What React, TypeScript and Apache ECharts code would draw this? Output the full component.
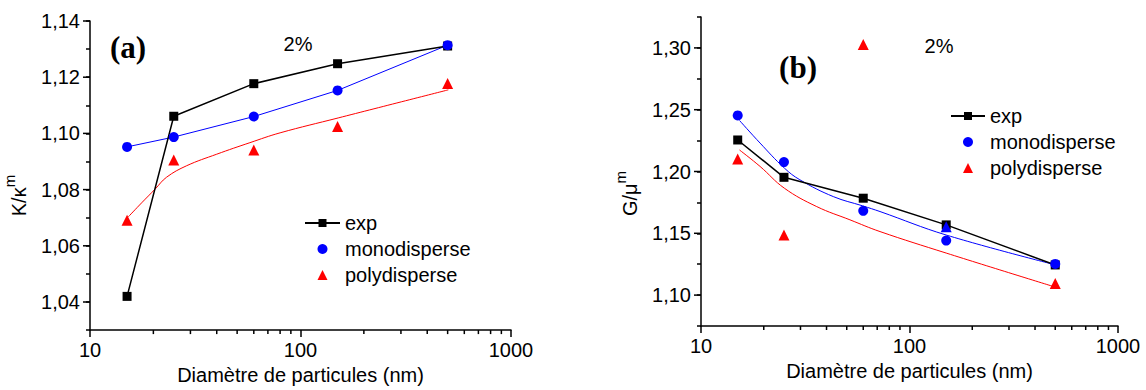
import React, { useEffect, useRef } from 'react';
import * as echarts from 'echarts';

// ---- data ----
const diameters = [15, 25, 60, 150, 500];

// panel (a) K/κm
const leftExp = [1.042, 1.1061, 1.1177, 1.1248, 1.1311];
const leftMono = [1.0952, 1.0987, 1.106, 1.1153, 1.1314];
const leftPoly = [1.0691, 1.0905, 1.0941, 1.1025, 1.1178];
const leftPolyFitX = [15.2, 17.6, 20.4, 23.1, 28.8, 40, 57.5, 80, 151, 504];
const leftPolyFitY = [1.0703, 1.0753, 1.0802, 1.0844, 1.0885, 1.0926, 1.0967, 1.1002, 1.1055, 1.1155];

// panel (b) G/μm
const rightExp = [1.2255, 1.1953, 1.1784, 1.1568, 1.1244];
const rightMono = [1.2454, 1.2076, 1.1682, 1.1441, 1.1252];
const rightPoly = [1.2101, 1.1487, 1.3027, 1.1554, 1.1093];
const rightPolyColors = ['#ff0000', '#ff0000', '#ff0000', '#0000ff', '#ff0000'];
const rightMonoFitX = [15.3, 19.2, 25.1, 29.8, 43.1, 59.6, 72.2, 150, 500];
const rightMonoFitY = [1.2413, 1.223, 1.2028, 1.1933, 1.1797, 1.1722, 1.1676, 1.1486, 1.1245];
const rightPolyFitX = [15.3, 19.2, 25.1, 35.9, 51.8, 72.2, 150, 500];
const rightPolyFitY = [1.2174, 1.2041, 1.1865, 1.1716, 1.1609, 1.1514, 1.134, 1.1065];

// axes
const xMinorTicks = [20, 30, 40, 50, 60, 70, 80, 90, 200, 300, 400, 500, 600, 700, 800, 900];
const leftYMajor = [1.04, 1.06, 1.08, 1.1, 1.12, 1.14];
const rightYMajor = [1.1, 1.15, 1.2, 1.25, 1.3];
const legendNames = ['exp', 'monodisperse', 'polydisperse'];
const xAxisTitle = 'Diamètre de particules (nm)';

const FONT = "'Liberation Sans', Arial, sans-serif";
const SERIF = "'Liberation Serif', 'Times New Roman', serif";

const pairs = (xs: number[], ys: number[]) => xs.map((x, i) => [x, ys[i]]);

function tickSeries(idx: number, data: number[][], dir: 'x' | 'y', len: number) {
  return {
    type: 'custom',
    xAxisIndex: idx,
    yAxisIndex: idx,
    silent: true,
    clip: false,
    z: 5,
    data,
    renderItem: (_p: any, api: any) => {
      const p = api.coord([api.value(0), api.value(1)]);
      const x2 = dir === 'x' ? p[0] : p[0] - len;
      const y2 = dir === 'x' ? p[1] + len : p[1];
      return {
        type: 'line',
        shape: { x1: p[0], y1: p[1], x2, y2 },
        style: { stroke: '#000', lineWidth: 1.5 },
      };
    },
  };
}

function xAxisCfg(grid: number, nameGap: number) {
  return {
    type: 'log',
    logBase: 10,
    gridIndex: grid,
    min: 10,
    max: 1000,
    name: xAxisTitle,
    nameLocation: 'middle',
    nameGap,
    nameTextStyle: { fontSize: 20, fontFamily: FONT, color: '#000' },
    axisLine: { lineStyle: { color: '#000', width: 1.5 } },
    axisTick: { inside: false, length: 7, lineStyle: { color: '#000', width: 1.5 } },
    axisLabel: { fontSize: 20, fontFamily: FONT, color: '#000', margin: 10, formatter: (v: number) => String(Math.round(v)) },
    splitLine: { show: false },
  };
}

function yAxisCfg(grid: number, min: number, max: number, interval: number, isMajor: (v: number) => boolean, name: string, nameGap: number, shift: number) {
  return {
    type: 'value',
    gridIndex: grid,
    min,
    max,
    interval,
    name,
    nameLocation: 'middle',
    nameRotate: 90,
    nameGap,
    nameTextStyle: {
      color: '#000',
      padding: [0, shift, 0, 0],
      rich: {
        a: { fontSize: 20, fontFamily: FONT, color: '#000' },
        b: { fontSize: 15, fontFamily: FONT, color: '#000', padding: [0, 0, 18, 0] },
      },
    },
    axisLine: { show: true, lineStyle: { color: '#000', width: 1.5 } },
    axisTick: { show: true, inside: false, length: 4, lineStyle: { color: '#000', width: 1.5 } },
    axisLabel: {
      fontSize: 20,
      fontFamily: FONT,
      color: '#000',
      margin: 10,
      formatter: (v: number) => (isMajor(v) ? v.toFixed(2).replace('.', ',') : ''),
    },
    splitLine: { show: false },
  };
}

function panelSeries(idx: number, exp: number[], mono: number[], poly: any[], monoLine: number[][], monoSmooth: boolean, polyFit: number[][]) {
  return [
    {
      type: 'line', name: 'exp', xAxisIndex: idx, yAxisIndex: idx,
      data: pairs(diameters, exp), symbol: 'rect', symbolSize: 9,
      itemStyle: { color: '#000' }, lineStyle: { color: '#000', width: 1.5 }, z: 3,
    },
    {
      type: 'line', name: 'mono-curve', xAxisIndex: idx, yAxisIndex: idx,
      data: monoLine, symbol: 'none', smooth: monoSmooth ? 0.4 : false,
      lineStyle: { color: '#0000ff', width: 1 }, z: 2,
    },
    {
      type: 'line', name: 'poly-curve', xAxisIndex: idx, yAxisIndex: idx,
      data: polyFit, symbol: 'none', smooth: 0.4,
      lineStyle: { color: '#ff0000', width: 1 }, z: 2,
    },
    {
      type: 'scatter', name: 'monodisperse', xAxisIndex: idx, yAxisIndex: idx,
      data: pairs(diameters, mono), symbol: 'circle', symbolSize: 10,
      itemStyle: { color: '#0000ff', opacity: 1 }, z: 4,
    },
    {
      type: 'scatter', name: 'polydisperse', xAxisIndex: idx, yAxisIndex: idx,
      data: poly, symbol: 'triangle', symbolSize: 11,
      itemStyle: { color: '#ff0000', opacity: 1 }, z: 4,
    },
  ];
}

function legendCfg(left: number, top: number, itemWidth: number) {
  return {
    data: [
      { name: legendNames[0] },
      { name: legendNames[1], icon: 'circle' },
      { name: legendNames[2], icon: 'path://M5,0L10,10L0,10Z' },
    ],
    orient: 'vertical',
    left,
    top,
    itemWidth,
    itemHeight: 10,
    itemGap: 6,
    symbolKeepAspect: true,
    textStyle: { fontSize: 20, fontFamily: FONT, color: '#000' },
    selectedMode: false,
  };
}

export default function App() {
  const ref = useRef<HTMLDivElement>(null);
  useEffect(() => {
    if (!ref.current) return;
    const chart = echarts.init(ref.current, null, { renderer: 'svg' });
    const rightPolyData = diameters.map((d, i) => ({ value: [d, rightPoly[i]], itemStyle: { color: rightPolyColors[i], opacity: 1 } }));
    chart.setOption({
      animation: false,
      backgroundColor: '#fff',
      grid: [
        { left: 90, top: 21, width: 421, height: 312 },
        { left: 701, top: 17, width: 417, height: 309 },
      ],
      xAxis: [xAxisCfg(0, 33), xAxisCfg(1, 34)],
      yAxis: [
        yAxisCfg(0, 1.03, 1.14, 0.01, (v) => Math.round(v * 100) % 2 === 0, '{a|K/κ}{b|m}', 55, 40),
        yAxisCfg(1, 1.075, 1.325, 0.025, (v) => Math.round(v * 1000) % 50 === 0, '{a|G/μ}{b|m}', 55, 44),
      ],
      legend: [legendCfg(299, 208, 35), legendCfg(945, 101, 34)],
      graphic: [
        { type: 'text', x: 128, y: 47, style: { text: '(a)', font: `bold 31px ${SERIF}`, fill: '#000', align: 'center', verticalAlign: 'middle', textAlign: 'center', textVerticalAlign: 'middle' } },
        { type: 'text', x: 298, y: 44, style: { text: '2%', font: `20px ${FONT}`, fill: '#000', align: 'center', verticalAlign: 'middle', textAlign: 'center', textVerticalAlign: 'middle' } },
        { type: 'text', x: 798, y: 67, style: { text: '(b)', font: `bold 31px ${SERIF}`, fill: '#000', align: 'center', verticalAlign: 'middle', textAlign: 'center', textVerticalAlign: 'middle' } },
        { type: 'text', x: 939, y: 46, style: { text: '2%', font: `20px ${FONT}`, fill: '#000', align: 'center', verticalAlign: 'middle', textAlign: 'center', textVerticalAlign: 'middle' } },
      ],
      series: [
        ...panelSeries(0, leftExp, leftMono, pairs(diameters, leftPoly), pairs(diameters, leftMono), false, pairs(leftPolyFitX, leftPolyFitY)),
        ...panelSeries(1, rightExp, rightMono, rightPolyData, pairs(rightMonoFitX, rightMonoFitY), true, pairs(rightPolyFitX, rightPolyFitY)),
        tickSeries(0, xMinorTicks.map((v) => [v, 1.03]), 'x', 4),
        tickSeries(1, xMinorTicks.map((v) => [v, 1.075]), 'x', 4),
        tickSeries(0, leftYMajor.map((v) => [10, v]), 'y', 7),
        tickSeries(1, rightYMajor.map((v) => [10, v]), 'y', 7),
      ],
    });
    return () => chart.dispose();
  }, []);
  return <div ref={ref} style={{ position: 'absolute', left: 0, top: 0, width: 1146, height: 390, background: '#fff' }} />;
}
